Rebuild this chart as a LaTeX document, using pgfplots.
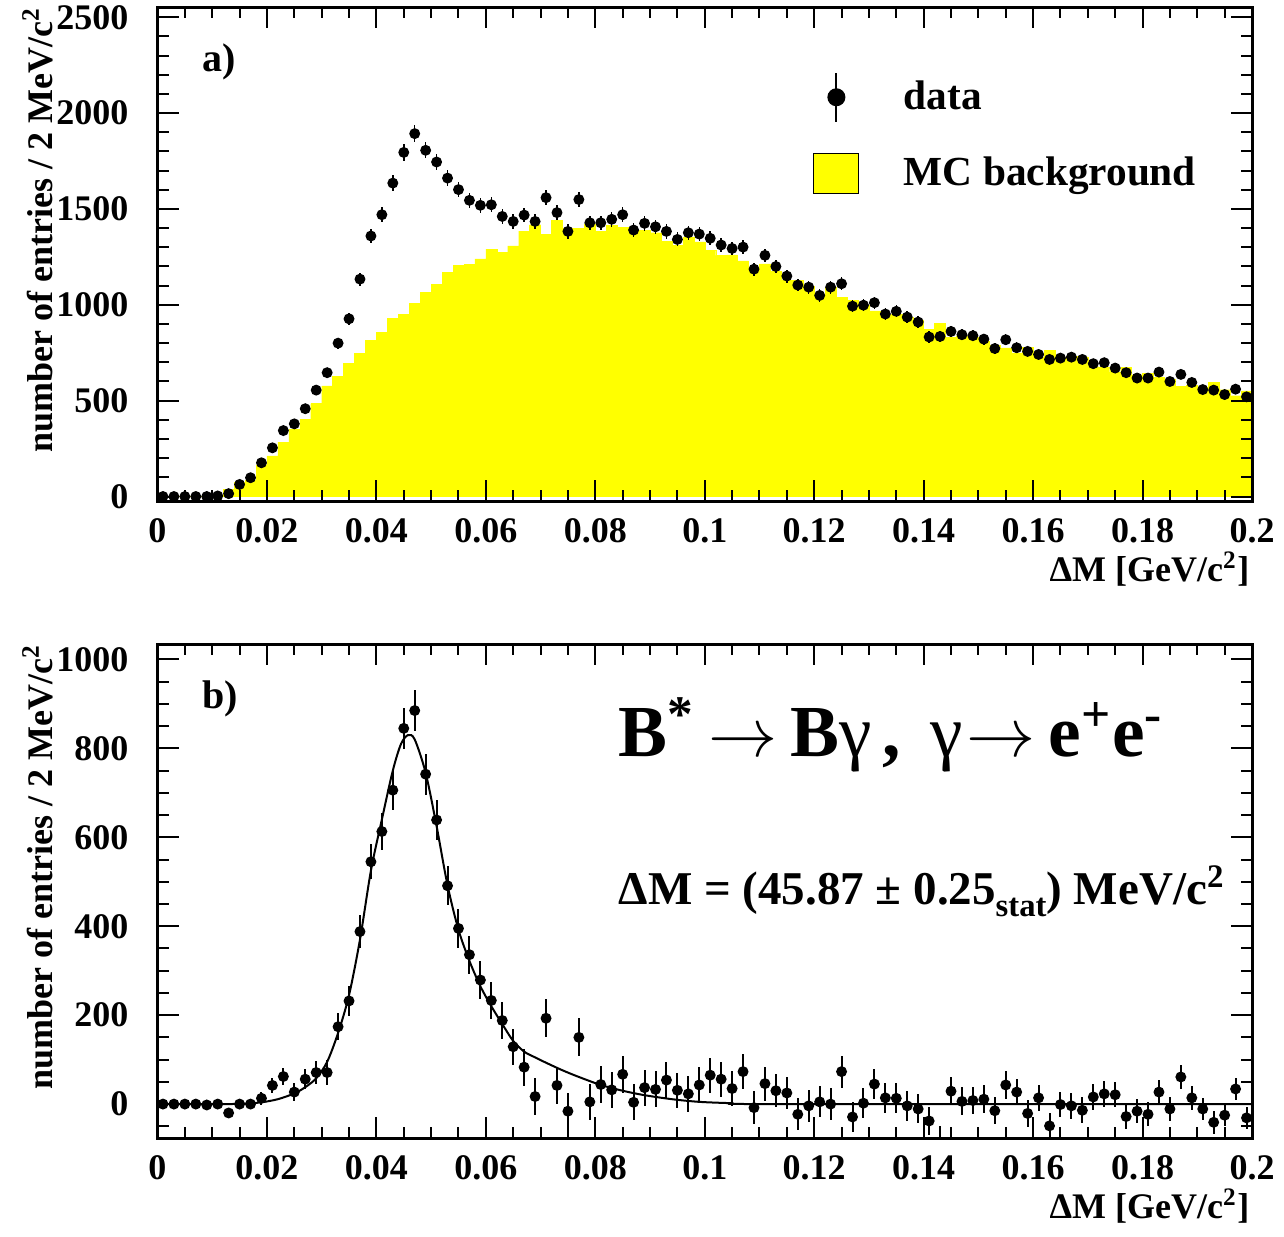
\documentclass[border=0pt]{standalone}
\usepackage{fontspec}
\setmainfont{Liberation Serif}
\usepackage{pgfplots}
\pgfplotsset{compat=1.18}
\usepackage{pgfplotstable}
\definecolor{rootyellow}{RGB}{255,255,0}

\pgfplotstableread{
x      d     mc    s
0.001  0     0     0
0.003  0     0     0
0.005  0     0     0
0.007  0     0     0
0.009  0     0     -2
0.011  3     2     0
0.013  15    36    -20
0.015  63    75    0
0.017  98    85    0
0.019  176   165   13
0.021  254   212   42
0.023  344   284   62
0.025  379   352   27
0.027  458   403   56
0.029  555   485   71
0.031  646   577   71
0.033  800   626   174
0.035  927   696   232
0.037  1134  747   388
0.039  1359  815   545
0.041  1470  857   613
0.043  1635  930   706
0.045  1795  952   845
0.047  1893  1008  885
0.049  1806  1065  742
0.051  1745  1107  639
0.053  1661  1171  491
0.055  1601  1207  395
0.057  1545  1210  336
0.059  1519  1240  279
0.061  1522  1290  233
0.063  1461  1273  188
0.065  1435  1307  129
0.067  1468  1385  83
0.069  1435  1418  17
0.071  1559  1366  193
0.073  1481  1439  42
0.075  1383  1400  -16
0.077  1549  1398  150
0.079  1428  1423  5
0.081  1428  1385  44
0.083  1446  1415  32
0.085  1470  1404  67
0.087  1390  1390  4
0.089  1425  1389  37
0.091  1407  1376  33
0.093  1383  1331  54
0.095  1341  1311  31
0.097  1376  1353  23
0.099  1369  1328  43
0.101  1347  1283  65
0.103  1312  1258  56
0.105  1294  1260  35
0.107  1301  1229  73
0.109  1186  1192  -8
0.111  1258  1214  46
0.113  1200  1174  30
0.115  1150  1128  25
0.117  1103  1127  -23
0.119  1092  1097  -4
0.121  1049  1046  5
0.123  1092  1092  0
0.125  1110  1038  73
0.127  993   1024  -29
0.129  998   1000  2
0.131  1011  968   45
0.133  952   945   14
0.135  966   952   13
0.137  936   935   -4
0.139  910   922   -11
0.141  832   871   -38
0.143  835   905   -80
0.145  861   832   29
0.147  844   838   6
0.149  839   831   8
0.151  821   810   11
0.153  772   787   -15
0.155  818   775   43
0.157  776   749   27
0.159  757   778   -21
0.161  741   727   14
0.163  715   764   -49
0.165  722   723   -1
0.167  727   731   -4
0.169  715   729   -14
0.171  693   677   16
0.173  698   675   23
0.175  670   649   21
0.177  646   674   -28
0.179  618   634   -16
0.181  618   641   -23
0.183  649   622   27
0.185  600   611   -11
0.187  637   576   61
0.189  595   581   14
0.191  558   569   -11
0.193  555   596   -41
0.195  532   557   -25
0.197  560   526   34
0.199  520   551   -31
}\tab

\pgfplotsset{
  rootaxis/.style={
    scale only axis,
    width=328.35pt, height=148.2pt,
    anchor=south west,
    xmin=0, xmax=0.2,
    axis on top,
    axis line style={line width=0.9pt},
    every tick/.style={black, line width=0.6pt},
    major tick length=6.3pt, minor tick length=3.3pt,
    tick align=inside,
    xtick={0,0.02,0.04,0.06,0.08,0.1,0.12,0.14,0.16,0.18,0.2},
    minor x tick num=3,
    scaled x ticks=false, scaled y ticks=false,
    /pgf/number format/assume math mode=true,
    ticklabel style={font=\fontsize{10.8}{12}\selectfont\bfseries},
    xticklabel style={/pgf/number format/fixed, /pgf/number format/precision=2, yshift=-1.6pt},
    yticklabel style={/pgf/number format/1000 sep={}, xshift=-5.2pt},
  }
}

\begin{document}
\begin{tikzpicture}
\path[use as bounding box] (0pt,0pt) rectangle (385.2pt,371.1pt);

% ---------- top panel ----------
\begin{axis}[rootaxis, at={(47.25pt,220.7pt)},
  ymin=-25, ymax=2552,
  ytick={0,500,1000,1500,2000,2500},
  minor ytick={0,100,...,2500},
  legend style={at={(axis cs:0.1197,2215)}, anchor=north west, draw=none, fill=none,
    inner sep=0pt, outer sep=0pt, row sep=9.0pt, column sep=13.4pt,
    font=\fontsize{12.4}{14}\selectfont\bfseries,
    nodes={inner sep=0pt}},
  legend cell align=left,
]
\addlegendimage{legend image code/.code={
  \draw[black, line width=0.6pt] (6.9pt,-7.3pt)--(6.9pt,7.3pt);
  \fill[black] (6.9pt,0pt) circle (2.5pt);
  \path[draw=none, fill=none] (0pt,0pt) rectangle (13.5pt,0.1pt);}}
\addlegendentry{data}
\addlegendimage{legend image code/.code={
  \draw[fill=rootyellow, draw=black, line width=0.5pt] (0pt,-6pt) rectangle (13.5pt,6pt);}}
\addlegendentry{MC background}

\addplot[ybar, bar width=0.002, fill=rootyellow, draw=rootyellow, line width=0.1pt, forget plot]
  table[x=x, y=mc] {\tab};
\addplot[only marks, mark=*, mark size=1.43pt, black, forget plot,
  error bars/.cd, y dir=both, y explicit, error mark=none,
  error bar style={line width=0.45pt}]
  table[x=x, y=d, y error expr=sqrt(\thisrow{d})] {\tab};
\end{axis}

% ---------- bottom panel ----------
\begin{axis}[rootaxis, at={(47.25pt,29.6pt)},
  ymin=-77, ymax=1034,
  ytick={0,200,400,600,800,1000},
  minor ytick={-50,0,50,...,1000},
]
\addplot[only marks, mark=*, mark size=1.43pt, black,
  error bars/.cd, y dir=both, y explicit, error mark=none,
  error bar style={line width=0.6pt}]
  table[x=x, y=s, y error expr=1.08*sqrt(\thisrow{d})] {\tab};
\addplot[smooth, black, line width=0.6pt] coordinates {
 (0,0) (0.012,0) (0.016,1) (0.019,4) (0.022,11) (0.025,24) (0.027,38)
 (0.029,58) (0.031,95) (0.033,160) (0.035,245) (0.037,370) (0.039,525)
 (0.041,640) (0.043,750) (0.0445,810) (0.0458,830) (0.047,820) (0.049,745)
 (0.051,625) (0.053,492) (0.055,392) (0.057,322) (0.059,265) (0.061,220)
 (0.063,180) (0.065,142) (0.067,118) (0.069,105) (0.071,93) (0.074,76)
 (0.077,61) (0.081,43) (0.085,30) (0.089,20) (0.094,11) (0.099,5)
 (0.105,2) (0.112,0) (0.2,0)};
\end{axis}

% ---------- texts ----------
\node[anchor=base west, inner sep=0pt, font=\fontsize{12}{14}\selectfont\bfseries]
  at (60.6pt,349.5pt) {a)};
\node[anchor=base west, inner sep=0pt, font=\fontsize{12}{14}\selectfont\bfseries]
  at (60.6pt,158.6pt) {b)};

\node[rotate=90, anchor=base east, inner sep=0pt, font=\fontsize{10.8}{13}\selectfont\bfseries]
  at (15.6pt,369pt) {number of entries / 2 MeV/c\textsuperscript{2}};
\node[rotate=90, anchor=base east, inner sep=0pt, font=\fontsize{10.8}{13}\selectfont\bfseries]
  at (15.6pt,177.9pt) {number of entries / 2 MeV/c\textsuperscript{2}};

\node[anchor=base east, inner sep=0pt, font=\fontsize{10.8}{13}\selectfont\bfseries]
  at (375pt,196.5pt) {ΔM [GeV/c\textsuperscript{2}]};
\node[anchor=base east, inner sep=0pt, font=\fontsize{10.8}{13}\selectfont\bfseries]
  at (375pt,5.4pt) {ΔM [GeV/c\textsuperscript{2}]};

\node[anchor=base west, inner sep=0pt, font=\fontsize{22}{26}\selectfont\bfseries]
  at (185.4pt,144pt) {B\textsuperscript{*}\kern4pt$\rightarrow$\kern4ptB{\mdseries γ}\kern3pt,\kern9pt{\mdseries γ}\kern1pt$\rightarrow$\kern4pte\textsuperscript{+}e\textsuperscript{-}};
\node[anchor=base west, inner sep=0pt, font=\fontsize{14.1}{17}\selectfont\bfseries]
  at (185.4pt,99.6pt) {ΔM = (45.87 ± 0.25\raisebox{-0.55ex}{\fontsize{9.8}{12}\selectfont stat}) MeV/c\textsuperscript{2}};
\end{tikzpicture}
\end{document}
